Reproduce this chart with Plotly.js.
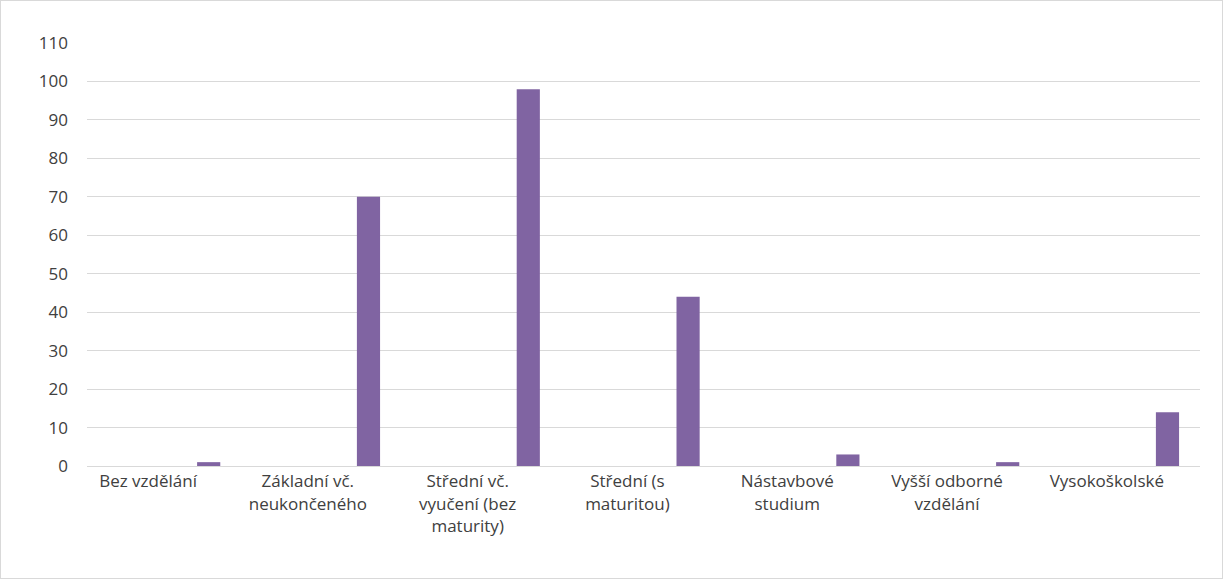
<!DOCTYPE html>
<html>
<head>
<meta charset="utf-8">
<script src="https://cdn.plot.ly/plotly-3.0.1.min.js"></script>
<style>
  html, body { margin: 0; padding: 0; background: #fff; }
  #chart { width: 1223px; height: 579px; box-sizing: border-box; border: 1px solid #d9d9d9; }
</style>
</head>
<body>
<div id="chart"></div>
<script>
var categories = [
  'Bez vzdělání',
  'Základní vč.<br>neukončeného',
  'Střední vč.<br>vyučení (bez<br>maturity)',
  'Střední (s<br>maturitou)',
  'Nástavbové<br>studium',
  'Vyšší odborné<br>vzdělání',
  'Vysokoškolské'
];
var values = [1, 70, 98, 44, 3, 1, 14];
var yTicks = [0, 10, 20, 30, 40, 50, 60, 70, 80, 90, 100, 110];

var trace = {
  x: categories,
  y: values,
  type: 'bar',
  width: 0.145,
  offset: 0.307,
  marker: { color: '#8064A2' },
  hoverinfo: 'x+y'
};

var layout = {
  width: 1221,
  height: 577,
  margin: { l: 86, r: 22, t: 42, b: 112 },
  paper_bgcolor: '#fff',
  plot_bgcolor: '#fff',
  showlegend: false,
  font: { family: 'Open Sans, Liberation Sans, sans-serif', size: 17, color: '#404040' },
  xaxis: {
    type: 'category',
    range: [-0.382, 6.583],
    showgrid: false,
    showline: true,
    linecolor: '#d9d9d9',
    ticks: '',
    tickfont: { size: 17 }
  },
  yaxis: {
    range: [0, 110],
    tickvals: yTicks,
    showgrid: true,
    gridcolor: '#d9d9d9',
    zeroline: false,
    ticks: '',
    ticklabelstandoff: 18
  }
};

Plotly.newPlot('chart', [trace], layout, { displayModeBar: false, staticPlot: true });
</script>
</body>
</html>
